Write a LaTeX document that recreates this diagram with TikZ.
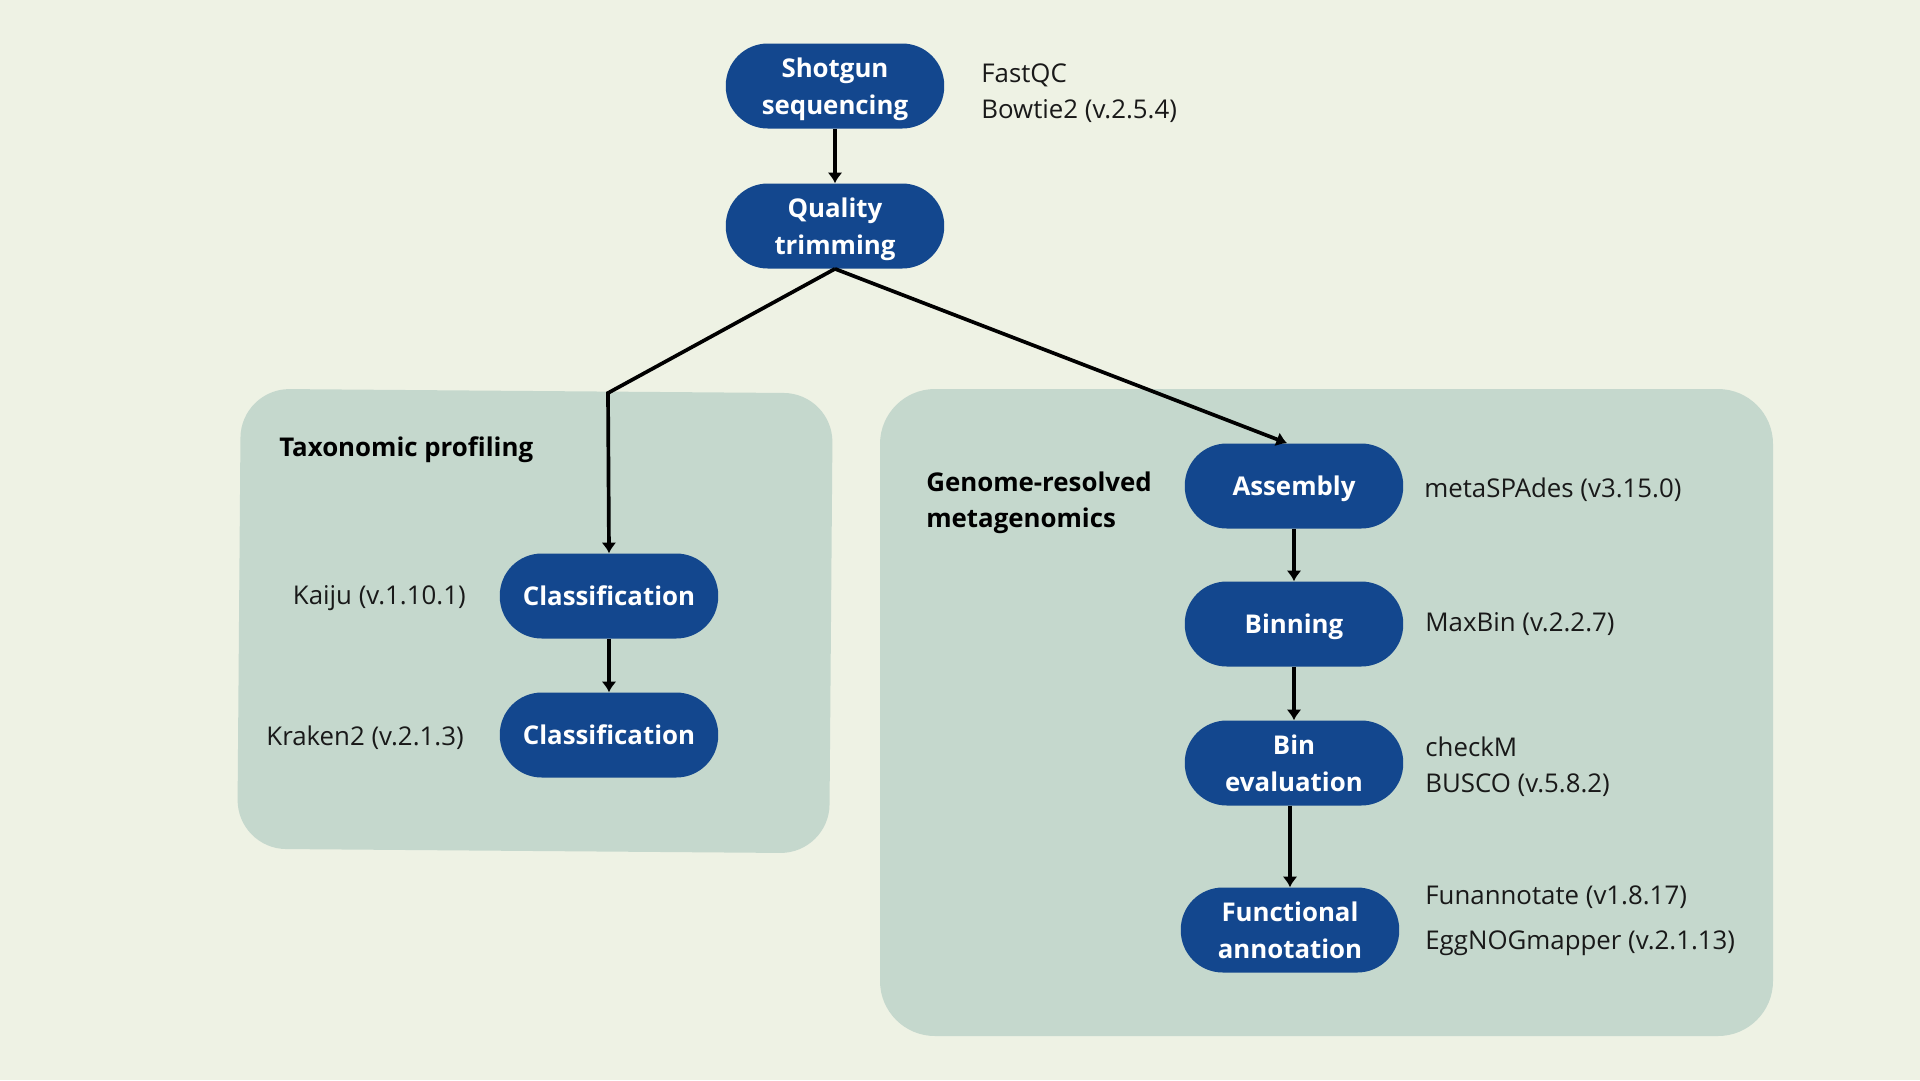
\documentclass[tikz,border=0pt]{standalone}
\usepackage{fontspec}
\setmainfont{Open Sans}
\usetikzlibrary{arrows.meta}
\definecolor{bgcream}{HTML}{EEF2E4}
\definecolor{panelgreen}{HTML}{C5D8CD}
\definecolor{stageblue}{HTML}{13478E}
\tikzset{
  stage/.style={fill=stageblue, text=white, font=\bfseries\fontsize{14.7}{20.4}\selectfont,
    rounded corners=0.84cm, minimum width=4.37cm, minimum height=1.7cm, align=center, inner sep=0pt,
    execute at begin node={\rule{0pt}{14pt}}, execute at end node={\rule[-3.5pt]{0pt}{0pt}}},
  pair/.style={font=\bfseries\fontsize{14.7}{21}\selectfont, text depth=0pt},
  tool/.style={font=\fontsize{14.7}{20.4}\selectfont, text=black!90, align=left, inner sep=0pt},
  title/.style={font=\bfseries\fontsize{14.7}{20.4}\selectfont, align=left, anchor=west, inner sep=0pt},
  flow/.style={-{Latex[length=6pt,width=8.5pt]}, line width=2.1pt},
}
\begin{document}
\begin{tikzpicture}[x=0.02cm, y=-0.02cm]
\fill[bgcream] (0,0) rectangle (1920,1080);
% panels
\fill[panelgreen, rounded corners=0.98cm, rotate around={-0.45:(535,621)}] (239,391) rectangle (831,851);
\fill[panelgreen, rounded corners=1.1cm] (880,389) rectangle (1773,1036);

\node[title] (Tax title) at (279,449.5) {Taxonomic profiling};
\node[title] (Gen title) at (926,502.5) {Genome-resolved\\metagenomics};

\node[stage, pair] (Shotgun) at (835,86) {Shotgun\\sequencing};
\node[stage, pair] (Quality) at (835,226) {Quality\\trimming};
\node[tool, anchor=west] (Shotgun tools) at (981,93.5) {FastQC\\Bowtie2 (v.2.5.4)};

\node[stage] (Class 1) at (609,596) {Classification};
\node[stage] (Class 2) at (609,735) {Classification};
\node[tool, anchor=east] (Kaiju) at (466,598.5) {Kaiju (v.1.10.1)};
\node[tool, anchor=east] (Kraken) at (464,737.5) {Kraken2 (v.2.1.3)};

\node[stage] (Assembly) at (1294,486) {Assembly};
\node[stage] (Binning) at (1294,624) {Binning};
\node[stage, pair] (Bin eval) at (1294,763) {Bin\\evaluation};
\node[stage, pair] (Functional) at (1290,930) {Functional\\annotation};
\node[tool, anchor=west] (Assembly tools) at (1424,489.5) {metaSPAdes (v3.15.0)};
\node[tool, anchor=west] (Binning tools) at (1425,624.5) {MaxBin (v.2.2.7)};
\node[tool, anchor=west] (Bin eval tools) at (1425,767) {checkM\\BUSCO (v.5.8.2)};
\node[tool, anchor=west] (Functional tools) at (1425,920.5) {Funannotate (v1.8.17)\\[5pt]EggNOGmapper (v.2.1.13)};

\coordinate (fork) at (608,393);
\draw[flow] (Shotgun) -- (Quality);
\draw[flow] (Quality.south) -- (fork) -- (Class 1.north);
\draw[flow] (Quality.south) -- ([xshift=-0.14cm]Assembly.north);
\draw[flow] (Class 1) -- (Class 2);
\draw[flow] (Assembly) -- (Binning);
\draw[flow] (Binning) -- (Bin eval);
\draw[flow] (Bin eval.south -| Functional.north) -- (Functional);
\end{tikzpicture}
\end{document}
